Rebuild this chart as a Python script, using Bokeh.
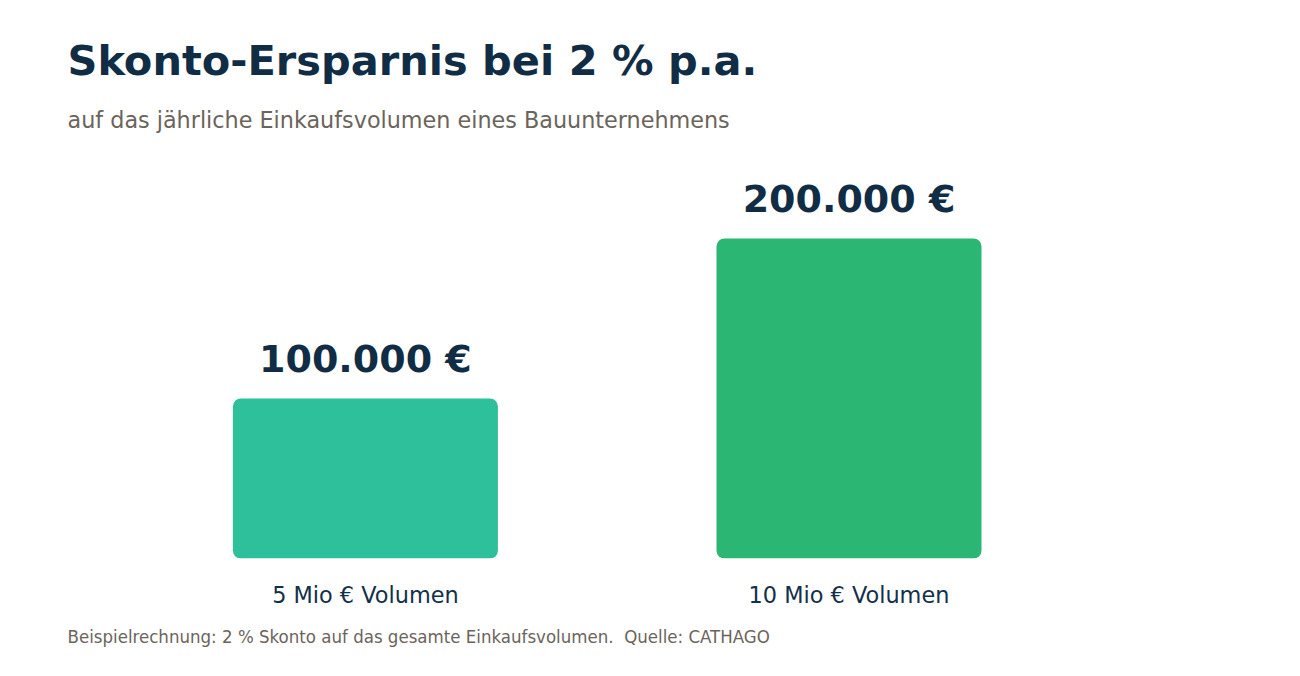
from bokeh.plotting import figure
from bokeh.models import Range1d, FixedTicker, Title, ColumnDataSource
from bokeh.core.properties import value
from bokeh.embed import file_html
from bokeh.resources import INLINE

# data
categories = ["5 Mio € Volumen", "10 Mio € Volumen"]
savings = [100000, 200000]
value_labels = ["100.000 €", "200.000 €"]
bar_colors = ["#2ebf9b", "#2bb673"]

NAVY = "#102d45"
GREY = "#6b645b"

positions = list(range(len(categories)))
source = ColumnDataSource(dict(x=positions, top=savings, label=value_labels, color=bar_colors))

p = figure(
    width=1284, height=660,
    x_range=Range1d(-0.616, 1.793), y_range=Range1d(0, 240000),
    y_axis_location=None,
    output_backend="svg", toolbar_location=None, tools="",
    min_border_left=67, min_border_right=52, min_border_top=174, min_border_bottom=101,
)

p.title.text = "Skonto-Ersparnis bei 2 % p.a."
p.title.text_font = "DejaVu Sans"
p.title.text_font_size = "41.5px"
p.title.text_font_style = "bold"
p.title.text_color = NAVY
p.title.align = "left"
p.title.standoff = -43

p.add_layout(Title(text="auf das jährliche Einkaufsvolumen eines Bauunternehmens",
                   text_font="DejaVu Sans", text_font_size="22.3px", text_font_style="normal",
                   text_color=GREY, align="left", standoff=83), "above")

p.add_layout(Title(text="Beispielrechnung: 2 % Skonto auf das gesamte Einkaufsvolumen.\u00a0 Quelle: CATHAGO",
                   text_font="DejaVu Sans Condensed", text_font_size="18.5px", text_font_style="normal",
                   text_color=GREY, align="left", standoff=27), "below")

p.vbar(x="x", top="top", width=0.548, bottom=0, source=source,
       fill_color="color", line_color=None, border_radius=8)

p.text(x="x", y="top", text="label", source=source, y_offset=-40,
       text_align="center", text_baseline="alphabetic",
       text_font=value("DejaVu Sans"), text_font_size="38px", text_font_style="bold",
       text_color=NAVY)

p.xaxis.ticker = FixedTicker(ticks=positions)
p.xaxis.major_label_overrides = {i: c for i, c in zip(positions, categories)}
p.xaxis.major_label_text_font = "DejaVu Sans"
p.xaxis.major_label_text_font_size = "22.4px"
p.xaxis.major_label_text_color = "#13304a"
p.xaxis.major_label_standoff = 17
p.xaxis.axis_line_color = None
p.xaxis.major_tick_line_color = None
p.xaxis.minor_tick_line_color = None

p.grid.visible = False
p.outline_line_color = None
p.background_fill_color = "white"
p.border_fill_color = "white"

open("out.html", "w").write(file_html(p, INLINE))
